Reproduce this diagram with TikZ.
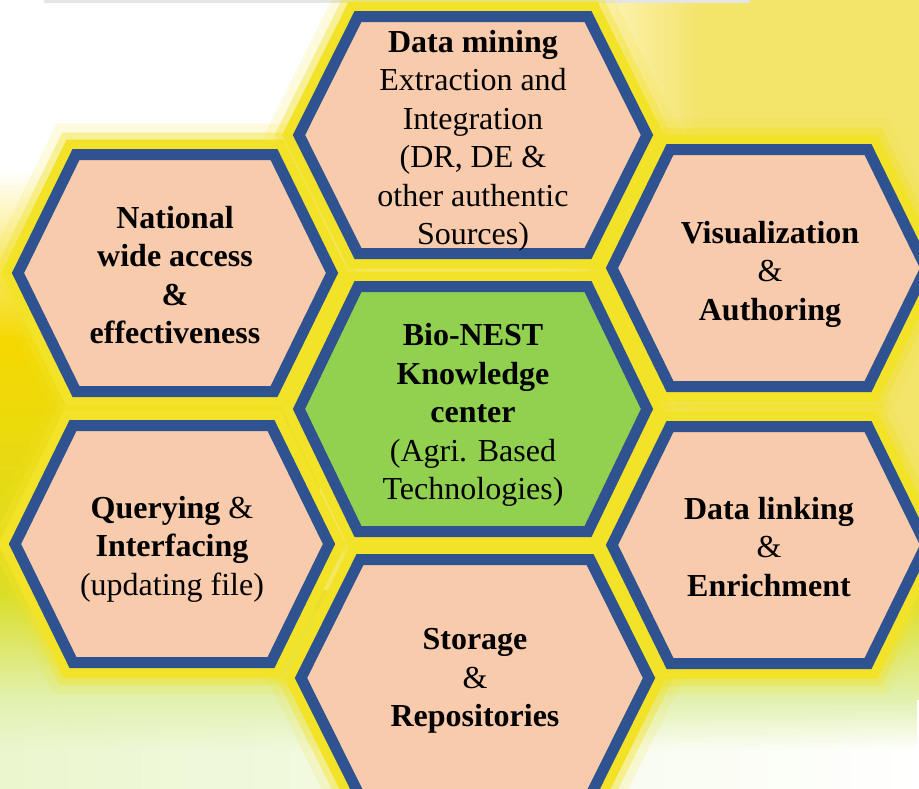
\documentclass[tikz,border=0pt]{standalone}
\usepackage{fontspec}
\setmainfont{Liberation Serif}
\usetikzlibrary{fadings}
\definecolor{hexfill}{HTML}{F8CBAD}
\definecolor{hexgreen}{HTML}{92D050}
\definecolor{hexblue}{HTML}{2F5290}
\definecolor{glowc}{HTML}{F2E228}
\definecolor{bgyel}{HTML}{F3E46A}
\definecolor{bgcream}{HTML}{FBF0A8}
\definecolor{bggold}{HTML}{F5D800}
\definecolor{bgyg}{HTML}{D9DD24}
\definecolor{bgpg}{HTML}{E2F1B0}
\definecolor{bgpale}{HTML}{EBF6CE}
\newcommand\hexglow[5]{%
  \draw[glowc, opacity=0.15, line width=62, line join=miter]
    (#1-#3,#2-#5) -- (#1+#3,#2-#5) -- (#1+#4,#2) -- (#1+#3,#2+#5) -- (#1-#3,#2+#5) -- (#1-#4,#2) -- cycle;
  \draw[glowc, opacity=0.4, line width=44, line join=miter]
    (#1-#3,#2-#5) -- (#1+#3,#2-#5) -- (#1+#4,#2) -- (#1+#3,#2+#5) -- (#1-#3,#2+#5) -- (#1-#4,#2) -- cycle;
  \draw[glowc, line width=30, line join=miter]
    (#1-#3,#2-#5) -- (#1+#3,#2-#5) -- (#1+#4,#2) -- (#1+#3,#2+#5) -- (#1-#3,#2+#5) -- (#1-#4,#2) -- cycle;}
\newcommand\hexcell[6]{%
  \draw[hexcellstyle, fill=#6]
    (#1-#3,#2-#5) -- (#1+#3,#2-#5) -- (#1+#4,#2) -- (#1+#3,#2+#5) -- (#1-#3,#2+#5) -- (#1-#4,#2) -- cycle;}
\tikzset{
  hexcellstyle/.style={draw=hexblue, line width=11, line join=miter},
  hextext/.style={align=center, inner sep=0pt, text=black,
    font={\fontsize{32}{38.5}\selectfont}},
}
\begin{document}
\begin{tikzpicture}[x=1pt, y=-1pt]
\useasboundingbox (0,0) rectangle (919,788);
% background
\fill[white] (0,0) rectangle (919,788);
\shade[left color=white, right color=bgcream] (540,0) rectangle (620,430);
\shade[left color=bgcream, right color=bgyel] (620,0) rectangle (700,430);
\fill[bgyel] (700,0) rectangle (919,430);
\shade[top color=white, bottom color=bggold] (0,170) rectangle (320,340);
\shade[top color=bggold, bottom color=bgyg] (0,340) rectangle (320,590);
\fill[bgyel] (560,430) rectangle (919,600);
\shade[top color=bgyg, bottom color=bgpg] (0,590) rectangle (919,700);
\shade[left color=bgpale, middle color=bgpale!80, right color=white] (0,700) rectangle (919,788);
\fill[bgpg, path fading=south] (0,699) rectangle (919,750);
\draw[black!10, line width=3] (44,1) -- (750,1);
% glows
\hexglow{473}{135}{115}{174}{118.5}
\hexglow{175}{273}{99}{157}{118.5}
\hexglow{769}{268}{99}{157}{118.5}
\hexglow{473}{409}{115}{174}{122.5}
\hexglow{172}{544}{99}{157}{118.5}
\hexglow{769}{545}{99}{157}{118.5}
\hexglow{475}{678}{115}{174}{118.5}
% cells
\hexcell{473}{135}{115}{174}{118.5}{hexfill}
\hexcell{175}{273}{99}{157}{118.5}{hexfill}
\hexcell{769}{268}{99}{157}{118.5}{hexfill}
\hexcell{473}{409}{115}{174}{122.5}{hexgreen}
\hexcell{172}{544}{99}{157}{118.5}{hexfill}
\hexcell{769}{545}{99}{157}{118.5}{hexfill}
\hexcell{475}{678}{115}{174}{118.5}{hexfill}
% texts
\node[hextext] (dm) at (473,141) {\textbf{Data mining}\\Extraction and\\Integration\\(DR, DE \&\\other authentic\\Sources)};
\node[hextext] (nat) at (175,275) {\textbf{National}\\\textbf{wide access}\\\textbf{\&}\\\textbf{effectiveness}};
\node[hextext] (vis) at (770,274) {\textbf{Visualization}\\\&\\\textbf{Authoring}};
\node[hextext] (bio) at (473,415) {\textbf{Bio-NEST}\\\textbf{Knowledge}\\\textbf{center}\\(Agri. Based\\Technologies)};
\node[hextext] (qry) at (172,549) {\textbf{Querying} \&\\\textbf{Interfacing}\\(updating file)};
\node[hextext] (dlk) at (769,547) {\textbf{Data linking}\\\&\\\textbf{Enrichment}};
\node[hextext] (sto) at (475,681) {\textbf{Storage}\\\&\\\textbf{Repositories}};
\end{tikzpicture}
\end{document}
